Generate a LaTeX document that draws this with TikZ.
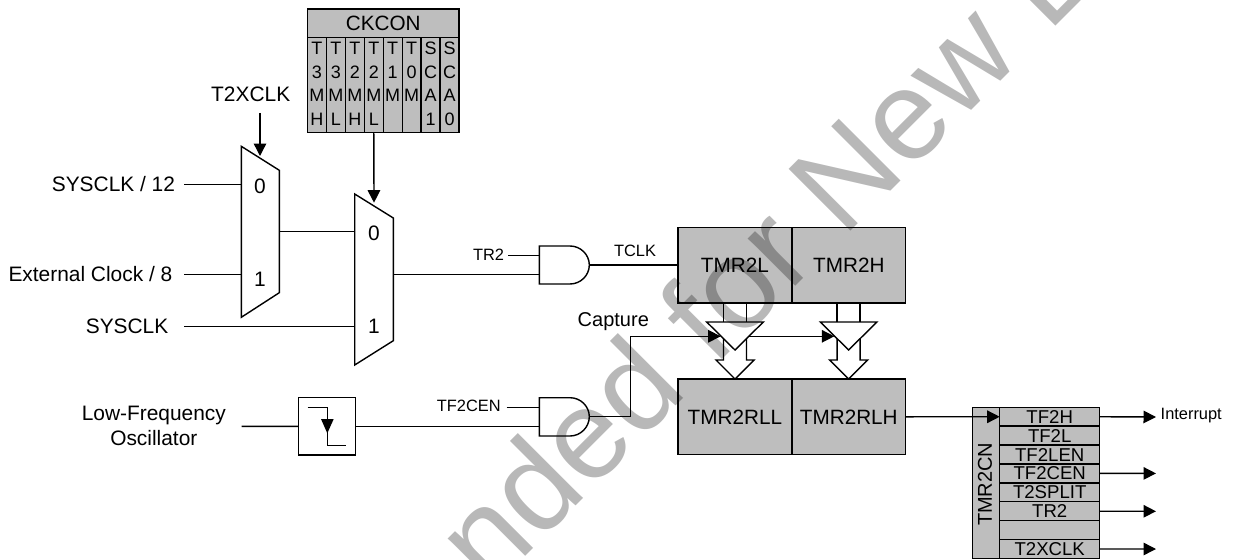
\documentclass[tikz,border=0pt]{standalone}
\usepackage{fontspec}
\setmainfont{Liberation Sans}
\usetikzlibrary{arrows.meta}
\definecolor{boxgray}{gray}{0.745}
\definecolor{wmgray}{gray}{0.72}
\newcommand{\fsz}[2]{\fontsize{#1}{#2}\selectfont}
\newcommand{\cellstack}[4]{\strut #1\\\strut #2\\\strut #3\\\strut #4}
\tikzset{
  wire/.style={draw=black,line width=1.4pt},
  arrowwire/.style={wire,-{Triangle[length=12.5pt,width=12.5pt]}},
  shapeline/.style={draw=black,line width=1.4pt,line join=miter,fill=white},
  regbox/.style={draw=black,line width=1.4pt,fill=boxgray,inner sep=0pt,outer sep=0pt,align=center},
  bigtext/.style={font=\fsz{20.9}{25},inner sep=0pt,outer sep=0pt,text=black,align=center},
  smalltext/.style={font=\fsz{16.4}{20},inner sep=0pt,outer sep=0pt,text=black},
  bittext/.style={font=\fsz{18}{23.5}},
  rowtext/.style={font=\fsz{18.6}{20}},
  reg/.style={regbox,font=\fsz{20.7}{25},minimum height=75.6pt,minimum width=113.9pt},
  cell/.style={regbox,bittext,minimum width=18.94pt,minimum height=95.2pt},
  row/.style={regbox,rowtext,minimum width=100pt,minimum height=18.9pt},
}
\begin{document}
\begin{tikzpicture}[x=1pt,y=-1pt]
\useasboundingbox (0,0) rectangle (1233,559);

% --- CKCON
\node[regbox,font=\fsz{20.7}{25},minimum width=151.5pt,minimum height=28.5pt] (ckcon) at (383.25,23.25) {CKCON};
\foreach \nm/\i/\txt in {a/0/{\cellstack{T}{3}{M}{H}},b/1/{\cellstack{T}{3}{M}{L}},c/2/{\cellstack{T}{2}{M}{H}},d/3/{\cellstack{T}{2}{M}{L}},e/4/{\cellstack{T}{1}{M}{}},f/5/{\cellstack{T}{0}{M}{}},g/6/{\cellstack{S}{C}{A}{1}},h/7/{\cellstack{S}{C}{A}{0}}}{
  \node[cell] (bit\nm) at ({307.5+18.94*(\i+0.5)},85.1) {\txt};
}

% --- Muxes
\coordinate (m1tl) at (241.3,146.3);
\coordinate (m1tr) at (279.3,170.3);
\coordinate (m1br) at (279.3,292.7);
\coordinate (m1bl) at (241.3,317.3);
\path[shapeline] (m1tl) -- (m1tr) -- (m1br) -- (m1bl) -- cycle;
\coordinate (m2tl) at (354.7,194);
\coordinate (m2tr) at (393.3,218);
\coordinate (m2br) at (393.3,340.7);
\coordinate (m2bl) at (354.7,365);
\path[shapeline] (m2tl) -- (m2tr) -- (m2br) -- (m2bl) -- cycle;
\node[bigtext] (m1zero) at (260,186.5) {0};
\node[bigtext] (m1one) at (260,279) {1};
\node[bigtext] (m2zero) at (374,233) {0};
\node[bigtext] (m2one) at (374,326.5) {1};

% --- Mux pins
\coordinate (m1a) at (241.3,184.5);
\coordinate (m1b) at (241.3,274.5);
\coordinate (m1o) at (279.3,231.6);
\coordinate (m1s) at (260,156);
\coordinate (m2a) at (354.7,231.6);
\coordinate (m2b) at (354.7,326.6);
\coordinate (m2o) at (393.3,274.5);
\coordinate (m2s) at (374,202.7);

% --- Left labels
\node[bigtext,anchor=east] (sys12) at (175,184) {SYSCLK / 12};
\node[bigtext,anchor=east] (ext8) at (172.3,274) {External Clock / 8};
\node[bigtext,anchor=east] (sys) at (168.3,326.5) {SYSCLK};
\node[bigtext] (t2x) at (250.7,94) {T2XCLK};
\node[bigtext] (lfo) at (153.8,425.5) {Low-Frequency\\Oscillator};
\coordinate (sys12e) at (184,184.5);
\coordinate (ext8e) at (184,274.5);
\coordinate (syse) at (184,326.6);
\coordinate (lfoe) at (241.7,426.4);
\coordinate (t2xs) at (260,113);

\draw[wire] (sys12e) -- (m1a);
\draw[wire] (ext8e) -- (m1b);
\draw[wire] (syse) -- (m2b);
\draw[wire] (m1o) -- (m2a);
\draw[arrowwire] (t2xs) -- (m1s);
\draw[arrowwire] (bitd.south) -- (m2s);

% --- Edge detector
\node[draw=black,line width=1.4pt,fill=white,minimum width=57.4pt,minimum height=57.3pt,inner sep=0pt,outer sep=0pt] (edge) at (327,426.35) {};
\coordinate (e1) at (307.7,407.3);
\coordinate (e2) at (327.3,407.3);
\coordinate (e3) at (327.3,445.3);
\coordinate (e4) at (346,445.3);
\draw[wire] (e1) -- (e2) -- (e3) -- (e4);
\fill[black] (321,419) -- (333.7,419) -- (327.3,433.3) -- cycle;
\draw[wire] (lfoe) -- (edge.west);

% --- AND gates
\coordinate (g1a) at (539.3,255.7);
\coordinate (g1b) at (539.3,274.5);
\coordinate (g1o) at (589.3,265);
\path[shapeline] (539.3,246) -- (570,246) .. controls (580.5,246) and (589.3,254.5) .. (589.3,265) .. controls (589.3,275.5) and (580.5,284) .. (570,284) -- (539.3,284) -- cycle;
\coordinate (g2a) at (539.3,407.3);
\coordinate (g2b) at (539.3,426.3);
\coordinate (g2o) at (589.3,416.7);
\path[shapeline] (539.3,397.7) -- (570,397.7) .. controls (580.5,397.7) and (589.3,406.2) .. (589.3,416.7) .. controls (589.3,427.2) and (580.5,436) .. (570,436) -- (539.3,436) -- cycle;

\node[smalltext,anchor=east] (tr2) at (504,255) {TR2};
\node[smalltext,anchor=east] (tf2cen) at (500.7,406) {TF2CEN};
\node[smalltext] (tclk) at (635,250.5) {TCLK};
\node[bigtext,font=\fsz{20}{24}] (capture) at (613.3,321.5) {Capture};
\coordinate (tr2e) at (508,255.7);
\coordinate (tf2cene) at (506.7,407.3);

\draw[wire] (m2o) -- (g1b);
\draw[wire] (tr2e) -- (g1a);
\draw[wire] (tf2cene) -- (g2a);
\draw[wire] (edge.east) -- (edge.east -| g2b);

% --- Timers
\node[reg] (tl) at (734.9,265) {TMR2L};
\node[reg] (th) at (848.8,265) {TMR2H};
\node[reg] (rl) at (734.9,416.8) {TMR2RLL};
\node[reg] (rh) at (848.8,416.8) {TMR2RLH};
\draw[wire] (g1o) -- (g1o -| tl.west);

% --- Buses and latches
\foreach \s/\cx in {p/735,q/848.6}{
  \path[shapeline] (\cx-11.5,336) -- (\cx-11.5,360) -- (\cx-19,360) -- (\cx,379) -- (\cx+19,360) -- (\cx+11.5,360) -- (\cx+11.5,336);
  \draw[wire] (\cx-11.5,302.7) -- (\cx-11.5,335);
  \draw[wire] (\cx+11.5,302.7) -- (\cx+11.5,335);
  \path[shapeline] (\cx-28.3,322) coordinate (\s l) -- (\cx+28.3,322) coordinate (\s r) -- (\cx,350) coordinate (\s t) -- cycle;
  \coordinate (\s in) at (\cx-14.3,336.3);
  \coordinate (\s out) at (\cx+14.3,336.3);
}
\coordinate (capv) at (630.7,416.7);
\coordinate (caph) at (630.7,336.3);
\draw[wire] (g2o) -- (capv) -- (caph);
\draw[arrowwire] (caph) -- (pin);
\draw[arrowwire] (pout) -- (qin);

% --- TMR2CN
\node[regbox,minimum width=27.4pt,minimum height=151.1pt] (cn) at (986,482.85) {};
\node[font=\fsz{20}{24},rotate=90,inner sep=0pt,text=black] (cnt) at (985,484.3) {TMR2CN};
\foreach \nm/\i/\txt in {r0/0/TF2H,r1/1/TF2L,r2/2/TF2LEN,r3/3/TF2CEN,r4/4/T2SPLIT,r5/5/TR2,r6/6/{},r7/7/T2XCLK}{
  \node[row] (\nm) at (1049.7,{407.3+18.89*(\i+0.5)}) {\txt};
}
\draw[arrowwire] (rh.east) -- (r0.west);
\node[smalltext,anchor=west] (intr) at (1160.7,415.5) {Interrupt};
\coordinate (o0) at (1156,417);
\coordinate (o3) at (1156,473.4);
\coordinate (o5) at (1156,511.3);
\coordinate (o7) at (1156,549);
\draw[arrowwire] (r0.east) -- (o0);
\draw[arrowwire] (r3.east) -- (o3);
\draw[arrowwire] (r5.east) -- (o5);
\draw[arrowwire] (r7.east) -- (o7);

% --- Watermark
\begin{scope}
\clip (0,0) rectangle (1233,559);
\begin{scope}[blend mode=multiply]
\node[rotate=45,anchor=base west,inner sep=0pt,outer sep=0pt,text=wmgray,font=\fsz{127}{127}] (wm) at (844,238) {\llap{nded for }New D};
\end{scope}
\end{scope}
\end{tikzpicture}
\end{document}
